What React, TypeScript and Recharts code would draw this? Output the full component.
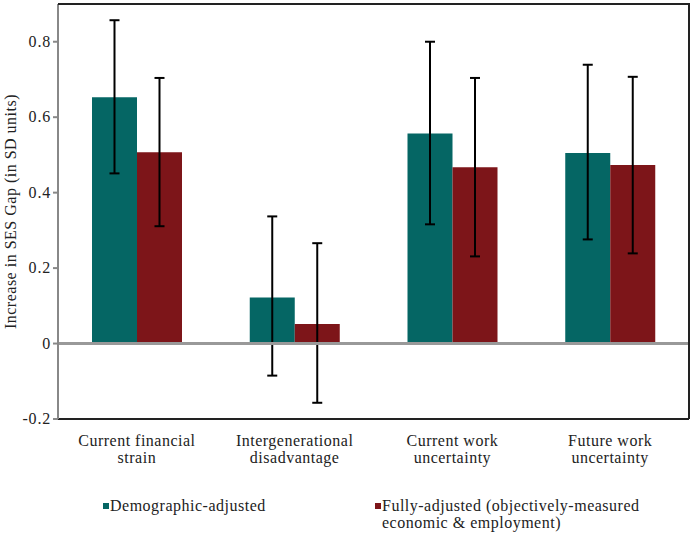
import { BarChart, Bar, XAxis, YAxis, ErrorBar, ReferenceLine, Legend } from "recharts";

const categories = ["Current financial|strain", "Intergenerational|disadvantage", "Current work|uncertainty", "Future work|uncertainty"];
const demographic = [0.653, 0.122, 0.557, 0.505];
const demographicLow = [0.451, -0.085, 0.316, 0.276];
const demographicHigh = [0.857, 0.337, 0.8, 0.739];
const fully = [0.507, 0.052, 0.467, 0.473];
const fullyLow = [0.311, -0.157, 0.231, 0.239];
const fullyHigh = [0.704, 0.266, 0.704, 0.707];
const yTicks = [-0.2, 0, 0.2, 0.4, 0.6, 0.8];
const yMax = 0.9;

const TEAL = "#056664";
const RED = "#7d1519";
const FONT = "'Liberation Serif', serif";

const data = categories.map((name, i) => ({
  name,
  demo: demographic[i],
  demoErr: [demographic[i] - demographicLow[i], demographicHigh[i] - demographic[i]],
  full: fully[i],
  fullErr: [fully[i] - fullyLow[i], fullyHigh[i] - fully[i]],
}));

function CategoryTick({ x, y, payload }: any) {
  const [a, b] = String(payload.value).split("|");
  return (
    <text x={x} textAnchor="middle" fontFamily={FONT} fontSize={16} fill="#222" letterSpacing={0.5}>
      <tspan x={x} y={y + 19}>{a}</tspan>
      <tspan x={x} y={y + 36}>{b}</tspan>
    </text>
  );
}

function ValueTick({ x, y, payload }: any) {
  const v = payload.value as number;
  return (
    <text x={x} y={y} dy={5} textAnchor="end" fontFamily={FONT} fontSize={16} fill="#222" letterSpacing={0.8}>
      {v === 0 ? "0" : v.toFixed(1)}
    </text>
  );
}

function AxisTitle({ viewBox }: any) {
  const cy = viewBox.y + viewBox.height / 2;
  return (
    <text x={16} y={cy} transform={`rotate(-90, 16, ${cy})`} textAnchor="middle" fontFamily={FONT} fontSize={16} fill="#222" letterSpacing={0.5}>
      Increase in SES Gap  (in SD units)
    </text>
  );
}

function LegendBox() {
  const item = (left: number, color: string, lines: string[]) => (
    <div style={{ position: "absolute", left, top: 0, fontFamily: FONT, fontSize: 16, letterSpacing: 0.5, color: "#222", lineHeight: "17px" }}>
      <span style={{ position: "absolute", left: -7, top: 6, width: 6, height: 6, background: color }} />
      {lines.map((l) => (
        <div key={l} style={{ whiteSpace: "pre" }}>{l}</div>
      ))}
    </div>
  );
  return (
    <div style={{ position: "relative", width: 694, height: 40 }}>
      {item(110, TEAL, ["Demographic-adjusted"])}
      {item(382, RED, ["Fully-adjusted (objectively-measured", "economic & employment)"])}
    </div>
  );
}

export default function App() {
  return (
    <div style={{ position: "absolute", left: 0, top: 0, background: "#fff" }}>
      <BarChart width={694} height={535} data={data} margin={{ top: 4, right: 4, left: 0, bottom: 0 }} barCategoryGap={34} barGap={0}>
        <XAxis dataKey="name" height={76} axisLine={{ stroke: "#222", strokeWidth: 2 }} tickLine={false} tick={<CategoryTick />} interval={0} />
        <YAxis
          domain={[-0.2, yMax]}
          ticks={yTicks}
          width={58}
          axisLine={{ stroke: "#888", strokeWidth: 2 }}
          tickLine={{ stroke: "#888", strokeWidth: 2 }}
          tickSize={5}
          tick={<ValueTick />}
          label={<AxisTitle />}
        />
        <YAxis yAxisId="right" orientation="right" width={1} domain={[-0.2, yMax]} tick={false} tickLine={false} axisLine={{ stroke: "#222", strokeWidth: 2 }} />
        <Legend verticalAlign="bottom" wrapperStyle={{ position: "absolute", left: 0, top: 497, width: 694 }} content={() => <LegendBox />} />
        <Bar dataKey="demo" fill={TEAL} name="Demographic-adjusted" isAnimationActive={false}>
          <ErrorBar dataKey="demoErr" stroke="#000" strokeWidth={2} width={5} />
        </Bar>
        <Bar dataKey="full" fill={RED} name="Fully-adjusted (objectively-measured economic & employment)" isAnimationActive={false}>
          <ErrorBar dataKey="fullErr" stroke="#000" strokeWidth={2} width={5} />
        </Bar>
        <ReferenceLine y={0} stroke="#999" strokeWidth={3} />
      </BarChart>
      {/* top edge of the plot frame */}
      <div style={{ position: "absolute", left: 58, top: 3, width: 632, height: 2, background: "#222" }} />
    </div>
  );
}
